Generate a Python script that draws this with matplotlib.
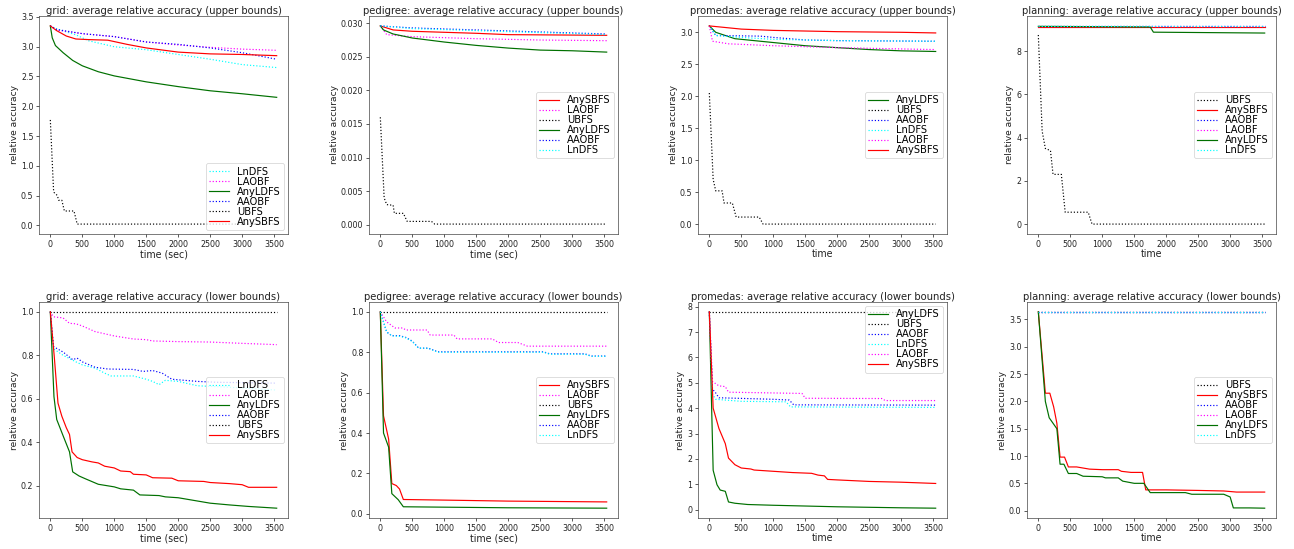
import matplotlib
matplotlib.use("Agg")
import matplotlib.pyplot as plt

# ---------------- data ----------------
# grid upper bounds
g_ub_LnDFS_t = [0, 100, 400, 600, 1000, 1500, 2000, 2500, 3000, 3540]
g_ub_LnDFS_v = [3.35, 3.30, 3.20, 3.10, 3.00, 2.95, 2.87, 2.79, 2.70, 2.65]
g_ub_LAOBF_t = [0, 100, 500, 1000, 1500, 2000, 2500, 3000, 3540]
g_ub_LAOBF_v = [3.35, 3.28, 3.22, 3.17, 3.08, 3.03, 2.99, 2.96, 2.94]
g_ub_AnyLDFS_t = [0, 30, 80, 200, 350, 500, 750, 1000, 1500, 2000, 2500, 3000, 3540]
g_ub_AnyLDFS_v = [3.35, 3.15, 3.02, 2.90, 2.77, 2.68, 2.58, 2.51, 2.41, 2.33, 2.26, 2.21, 2.15]
g_ub_AAOBF_t = [0, 100, 500, 1000, 1500, 2000, 2500, 3000, 3540]
g_ub_AAOBF_v = [3.35, 3.29, 3.22, 3.17, 3.08, 3.04, 2.98, 2.90, 2.79]
g_ub_UBFS_t = [0, 50, 60, 110, 130, 180, 220, 370, 420, 3540]
g_ub_UBFS_v = [1.77, 0.60, 0.55, 0.50, 0.42, 0.42, 0.24, 0.24, 0.02, 0.02]
g_ub_AnySBFS_t = [0, 100, 250, 400, 600, 900, 1200, 1500, 2000, 2500, 3000, 3540]
g_ub_AnySBFS_v = [3.35, 3.27, 3.18, 3.13, 3.12, 3.11, 3.04, 2.98, 2.91, 2.88, 2.87, 2.85]

# pedigree upper bounds
p_ub_AnySBFS_t = [0, 200, 500, 1500, 2000, 3540]
p_ub_AnySBFS_v = [0.0296, 0.0290, 0.0288, 0.0285, 0.0283, 0.0282]
p_ub_LAOBF_t = [0, 100, 500, 1500, 2500, 3540]
p_ub_LAOBF_v = [0.0296, 0.0283, 0.0280, 0.0277, 0.0275, 0.0274]
p_ub_UBFS_t = [0, 60, 100, 200, 220, 360, 420, 800, 850, 3540]
p_ub_UBFS_v = [0.0160, 0.0040, 0.0030, 0.0029, 0.0017, 0.0017, 0.0005, 0.0005, 0.0001, 0.0001]
p_ub_AnyLDFS_t = [0, 50, 200, 500, 1000, 1500, 2000, 2500, 3000, 3540]
p_ub_AnyLDFS_v = [0.0296, 0.0290, 0.0284, 0.0278, 0.0272, 0.0267, 0.0263, 0.0260, 0.0259, 0.0257]
p_ub_AAOBF_t = [0, 500, 1500, 2500, 3540]
p_ub_AAOBF_v = [0.0296, 0.0293, 0.0290, 0.0287, 0.0284]
p_ub_LnDFS_t = [0, 500, 1500, 2500, 3540]
p_ub_LnDFS_v = [0.0296, 0.0292, 0.0289, 0.0286, 0.0283]

# promedas upper bounds
m_ub_AnyLDFS_t = [0, 100, 400, 1000, 1500, 2000, 2500, 3000, 3540]
m_ub_AnyLDFS_v = [3.10, 3.00, 2.90, 2.84, 2.79, 2.76, 2.73, 2.71, 2.70]
m_ub_UBFS_t = [0, 60, 100, 200, 230, 360, 420, 780, 840, 3540]
m_ub_UBFS_v = [2.05, 0.70, 0.52, 0.52, 0.33, 0.33, 0.11, 0.11, 0.0, 0.0]
m_ub_AAOBF_t = [0, 100, 800, 1000, 1500, 2000, 3540]
m_ub_AAOBF_v = [3.10, 2.95, 2.94, 2.92, 2.88, 2.87, 2.86]
m_ub_LnDFS_t = [0, 100, 500, 1000, 2000, 3540]
m_ub_LnDFS_v = [3.10, 2.95, 2.92, 2.89, 2.87, 2.86]
m_ub_LAOBF_t = [0, 50, 300, 1000, 2000, 3000, 3540]
m_ub_LAOBF_v = [3.10, 2.86, 2.82, 2.79, 2.76, 2.74, 2.73]
m_ub_AnySBFS_t = [0, 200, 500, 1000, 2000, 3000, 3540]
m_ub_AnySBFS_v = [3.10, 3.08, 3.05, 3.03, 3.01, 3.00, 2.99]

# planning upper bounds
n_ub_UBFS_t = [0, 60, 110, 190, 230, 360, 420, 780, 840, 3540]
n_ub_UBFS_v = [8.75, 4.30, 3.50, 3.40, 2.30, 2.30, 0.55, 0.55, 0.0, 0.0]
n_ub_AnySBFS_t = [0, 3540]
n_ub_AnySBFS_v = [9.13, 9.13]
n_ub_AAOBF_t = [0, 3540]
n_ub_AAOBF_v = [9.15, 9.15]
n_ub_LAOBF_t = [0, 3540]
n_ub_LAOBF_v = [9.15, 9.15]
n_ub_AnyLDFS_t = [0, 1750, 1800, 3540]
n_ub_AnyLDFS_v = [9.15, 9.12, 8.88, 8.84]
n_ub_LnDFS_t = [0, 3540]
n_ub_LnDFS_v = [9.17, 9.17]

# grid lower bounds
g_lb_LnDFS_t = [0, 50, 200, 400, 500, 700, 850, 950, 1300, 1500, 1600, 1700, 1800, 2000, 2300, 3000, 3540]
g_lb_LnDFS_v = [1.0, 0.83, 0.80, 0.77, 0.756, 0.741, 0.718, 0.705, 0.705, 0.69, 0.68, 0.665, 0.685, 0.68, 0.66, 0.65, 0.64]
g_lb_LAOBF_t = [0, 50, 200, 300, 400, 500, 700, 1000, 1300, 1500, 1600, 2000, 2500, 3000, 3540]
g_lb_LAOBF_v = [1.0, 0.977, 0.972, 0.947, 0.945, 0.935, 0.909, 0.889, 0.875, 0.872, 0.866, 0.863, 0.861, 0.855, 0.849]
g_lb_AnyLDFS_t = [0, 57, 100, 200, 300, 350, 450, 550, 750, 1000, 1100, 1300, 1400, 1700, 1800, 2000, 2100, 2300, 2500, 2800, 3100, 3540]
g_lb_AnyLDFS_v = [1.0, 0.61, 0.505, 0.43, 0.356, 0.264, 0.245, 0.232, 0.207, 0.195, 0.186, 0.18, 0.158, 0.155, 0.149, 0.145, 0.14, 0.13, 0.12, 0.112, 0.105, 0.097]
g_lb_AAOBF_t = [0, 50, 200, 350, 420, 500, 700, 900, 1300, 1450, 1600, 1750, 1900, 2300, 2600, 3540]
g_lb_AAOBF_v = [1.0, 0.84, 0.815, 0.78, 0.787, 0.77, 0.745, 0.737, 0.735, 0.726, 0.73, 0.718, 0.69, 0.68, 0.676, 0.672]
g_lb_UBFS_t = [0, 3540]
g_lb_UBFS_v = [1.0, 1.0]
g_lb_AnySBFS_t = [0, 60, 120, 180, 250, 300, 340, 420, 500, 650, 750, 850, 1000, 1100, 1250, 1300, 1500, 1600, 1900, 2000, 2400, 2500, 2800, 3000, 3100, 3540]
g_lb_AnySBFS_v = [1.0, 0.80, 0.58, 0.52, 0.467, 0.436, 0.356, 0.33, 0.32, 0.31, 0.305, 0.29, 0.282, 0.268, 0.265, 0.253, 0.25, 0.237, 0.235, 0.223, 0.22, 0.215, 0.21, 0.205, 0.193, 0.193]

# pedigree lower bounds
p_lb_AnySBFS_t = [0, 50, 130, 180, 250, 300, 360, 1000, 2000, 3540]
p_lb_AnySBFS_v = [1.0, 0.485, 0.37, 0.15, 0.14, 0.123, 0.071, 0.068, 0.063, 0.059]
p_lb_LAOBF_t = [0, 100, 230, 350, 400, 730, 780, 1150, 1200, 1750, 1850, 2150, 2300, 3540]
p_lb_LAOBF_v = [1.0, 0.95, 0.92, 0.92, 0.91, 0.91, 0.885, 0.885, 0.866, 0.866, 0.848, 0.848, 0.83, 0.83]
p_lb_UBFS_t = [0, 3540]
p_lb_UBFS_v = [1.0, 1.0]
p_lb_AnyLDFS_t = [0, 50, 130, 180, 280, 360, 1000, 2000, 3540]
p_lb_AnyLDFS_v = [1.0, 0.40, 0.33, 0.10, 0.07, 0.035, 0.033, 0.030, 0.028]
p_lb_AAOBF_t = [0, 100, 180, 300, 400, 500, 600, 750, 900, 2550, 2650, 3200, 3300, 3540]
p_lb_AAOBF_v = [1.0, 0.90, 0.882, 0.882, 0.873, 0.855, 0.82, 0.82, 0.802, 0.802, 0.792, 0.792, 0.781, 0.781]
p_lb_LnDFS_t = [0, 100, 180, 300, 400, 500, 600, 750, 900, 2550, 2650, 3200, 3300, 3540]
p_lb_LnDFS_v = [1.0, 0.90, 0.881, 0.879, 0.871, 0.853, 0.82, 0.82, 0.80, 0.80, 0.79, 0.79, 0.78, 0.78]

# promedas lower bounds
m_lb_AnyLDFS_t = [0, 60, 120, 170, 250, 300, 400, 600, 1000, 1500, 2000, 2500, 3000, 3540]
m_lb_AnyLDFS_v = [7.8, 1.55, 0.98, 0.77, 0.72, 0.30, 0.25, 0.20, 0.17, 0.14, 0.11, 0.09, 0.07, 0.055]
m_lb_UBFS_t = [0, 3540]
m_lb_UBFS_v = [7.8, 7.8]
m_lb_AAOBF_t = [0, 50, 100, 150, 1000, 1250, 1320, 3540]
m_lb_AAOBF_v = [7.8, 4.75, 4.6, 4.41, 4.35, 4.32, 4.13, 4.12]
m_lb_LnDFS_t = [0, 50, 100, 500, 1200, 1270, 3540]
m_lb_LnDFS_v = [7.8, 4.55, 4.35, 4.27, 4.25, 4.05, 4.03]
m_lb_LAOBF_t = [0, 50, 150, 250, 300, 1000, 1450, 1500, 2700, 2750, 3540]
m_lb_LAOBF_v = [7.8, 5.05, 4.88, 4.85, 4.63, 4.60, 4.58, 4.39, 4.38, 4.30, 4.30]
m_lb_AnySBFS_t = [0, 60, 150, 250, 300, 400, 500, 650, 700, 1000, 1300, 1600, 1700, 1800, 1850, 2000, 2500, 3000, 3540]
m_lb_AnySBFS_v = [7.8, 4.0, 3.2, 2.6, 2.03, 1.77, 1.64, 1.6, 1.56, 1.51, 1.46, 1.43, 1.36, 1.33, 1.19, 1.17, 1.11, 1.08, 1.03]

# planning lower bounds
n_lb_UBFS_t = [0, 3540]
n_lb_UBFS_v = [3.64, 3.64]
n_lb_AnySBFS_t = [0, 110, 180, 240, 290, 340, 410, 470, 600, 700, 800, 1000, 1250, 1300, 1450, 1630, 1680, 2000, 2500, 2900, 3100, 3540]
n_lb_AnySBFS_v = [3.64, 2.15, 2.15, 1.9, 1.6, 0.98, 0.98, 0.8, 0.8, 0.78, 0.76, 0.75, 0.75, 0.72, 0.70, 0.70, 0.38, 0.38, 0.37, 0.36, 0.34, 0.34]
n_lb_AAOBF_t = [0, 3540]
n_lb_AAOBF_v = [3.64, 3.64]
n_lb_LAOBF_t = [0, 3540]
n_lb_LAOBF_v = [3.64, 3.64]
n_lb_AnyLDFS_t = [0, 110, 170, 290, 340, 400, 470, 600, 700, 1000, 1050, 1250, 1320, 1500, 1650, 1750, 2300, 2400, 2900, 3000, 3050, 3300, 3540]
n_lb_AnyLDFS_v = [3.64, 2.0, 1.7, 1.5, 0.85, 0.85, 0.68, 0.68, 0.63, 0.62, 0.60, 0.60, 0.54, 0.50, 0.50, 0.33, 0.33, 0.30, 0.30, 0.25, 0.05, 0.05, 0.045]
n_lb_LnDFS_t = [0, 3540]
n_lb_LnDFS_v = [3.63, 3.63]

# ---------------- style ----------------
styles = {
    "AnySBFS": dict(color="red", linestyle="-"),
    "AnyLDFS": dict(color="#007000", linestyle="-"),
    "LnDFS": dict(color="cyan", linestyle=":"),
    "LAOBF": dict(color="magenta", linestyle=":"),
    "AAOBF": dict(color="blue", linestyle=":"),
    "UBFS": dict(color="black", linestyle=":"),
}

panels = [
    ("grid: average relative accuracy (upper bounds)", "time (sec)", "lower right",
     [("LnDFS", g_ub_LnDFS_t, g_ub_LnDFS_v), ("LAOBF", g_ub_LAOBF_t, g_ub_LAOBF_v),
      ("AnyLDFS", g_ub_AnyLDFS_t, g_ub_AnyLDFS_v), ("AAOBF", g_ub_AAOBF_t, g_ub_AAOBF_v),
      ("UBFS", g_ub_UBFS_t, g_ub_UBFS_v), ("AnySBFS", g_ub_AnySBFS_t, g_ub_AnySBFS_v)]),
    ("pedigree: average relative accuracy (upper bounds)", "time (sec)", "center right",
     [("AnySBFS", p_ub_AnySBFS_t, p_ub_AnySBFS_v), ("LAOBF", p_ub_LAOBF_t, p_ub_LAOBF_v),
      ("UBFS", p_ub_UBFS_t, p_ub_UBFS_v), ("AnyLDFS", p_ub_AnyLDFS_t, p_ub_AnyLDFS_v),
      ("AAOBF", p_ub_AAOBF_t, p_ub_AAOBF_v), ("LnDFS", p_ub_LnDFS_t, p_ub_LnDFS_v)]),
    ("promedas: average relative accuracy (upper bounds)", "time", "center right",
     [("AnyLDFS", m_ub_AnyLDFS_t, m_ub_AnyLDFS_v), ("UBFS", m_ub_UBFS_t, m_ub_UBFS_v),
      ("AAOBF", m_ub_AAOBF_t, m_ub_AAOBF_v), ("LnDFS", m_ub_LnDFS_t, m_ub_LnDFS_v),
      ("LAOBF", m_ub_LAOBF_t, m_ub_LAOBF_v), ("AnySBFS", m_ub_AnySBFS_t, m_ub_AnySBFS_v)]),
    ("planning: average relative accuracy (upper bounds)", "time", "center right",
     [("UBFS", n_ub_UBFS_t, n_ub_UBFS_v), ("AnySBFS", n_ub_AnySBFS_t, n_ub_AnySBFS_v),
      ("AAOBF", n_ub_AAOBF_t, n_ub_AAOBF_v), ("LAOBF", n_ub_LAOBF_t, n_ub_LAOBF_v),
      ("AnyLDFS", n_ub_AnyLDFS_t, n_ub_AnyLDFS_v), ("LnDFS", n_ub_LnDFS_t, n_ub_LnDFS_v)]),
    ("grid: average relative accuracy (lower bounds)", "time (sec)", "center right",
     [("LnDFS", g_lb_LnDFS_t, g_lb_LnDFS_v), ("LAOBF", g_lb_LAOBF_t, g_lb_LAOBF_v),
      ("AnyLDFS", g_lb_AnyLDFS_t, g_lb_AnyLDFS_v), ("AAOBF", g_lb_AAOBF_t, g_lb_AAOBF_v),
      ("UBFS", g_lb_UBFS_t, g_lb_UBFS_v), ("AnySBFS", g_lb_AnySBFS_t, g_lb_AnySBFS_v)]),
    ("pedigree: average relative accuracy (lower bounds)", "time (sec)", "center right",
     [("AnySBFS", p_lb_AnySBFS_t, p_lb_AnySBFS_v), ("LAOBF", p_lb_LAOBF_t, p_lb_LAOBF_v),
      ("UBFS", p_lb_UBFS_t, p_lb_UBFS_v), ("AnyLDFS", p_lb_AnyLDFS_t, p_lb_AnyLDFS_v),
      ("AAOBF", p_lb_AAOBF_t, p_lb_AAOBF_v), ("LnDFS", p_lb_LnDFS_t, p_lb_LnDFS_v)]),
    ("promedas: average relative accuracy (lower bounds)", "time", "upper right",
     [("AnyLDFS", m_lb_AnyLDFS_t, m_lb_AnyLDFS_v), ("UBFS", m_lb_UBFS_t, m_lb_UBFS_v),
      ("AAOBF", m_lb_AAOBF_t, m_lb_AAOBF_v), ("LnDFS", m_lb_LnDFS_t, m_lb_LnDFS_v),
      ("LAOBF", m_lb_LAOBF_t, m_lb_LAOBF_v), ("AnySBFS", m_lb_AnySBFS_t, m_lb_AnySBFS_v)]),
    ("planning: average relative accuracy (lower bounds)", "time", "center right",
     [("UBFS", n_lb_UBFS_t, n_lb_UBFS_v), ("AnySBFS", n_lb_AnySBFS_t, n_lb_AnySBFS_v),
      ("AAOBF", n_lb_AAOBF_t, n_lb_AAOBF_v), ("LAOBF", n_lb_LAOBF_t, n_lb_LAOBF_v),
      ("AnyLDFS", n_lb_AnyLDFS_t, n_lb_AnyLDFS_v), ("LnDFS", n_lb_LnDFS_t, n_lb_LnDFS_v)]),
]

DPI = 57
W, H = 1294, 549
fig = plt.figure(figsize=(W / DPI, H / DPI), dpi=DPI)

lefts = [39, 369, 698, 1027]
axw = 249
rows = [(16, 234), (302, 518)]

for i, (title, xlabel, loc, series) in enumerate(panels):
    r, c = divmod(i, 4)
    top, bot = rows[r]
    ax = fig.add_axes([lefts[c] / W, 1 - bot / H, axw / W, (bot - top) / H])
    for name, t, v in series:
        ax.plot(t, v, label=name, linewidth=1.5, **styles[name])
    ax.set_title(title, fontsize=12.6, pad=3, color="#222222")
    ax.set_xlabel(xlabel, fontsize=12, labelpad=1, color="#222222")
    ax.set_ylabel("relative accuracy", fontsize=11.6, labelpad=3, color="#222222")
    ax.set_xticks([0, 500, 1000, 1500, 2000, 2500, 3000, 3500])
    ax.tick_params(labelsize=10, labelcolor="#222222")
    for sp in ax.spines.values():
        sp.set_color("#333333")
    ax.legend(loc=loc, prop={"size": 12.5}, labelspacing=0.0, borderpad=0.35,
              handlelength=2.0, handletextpad=0.8, borderaxespad=0.4)

fig.savefig("out.png", dpi=DPI)
